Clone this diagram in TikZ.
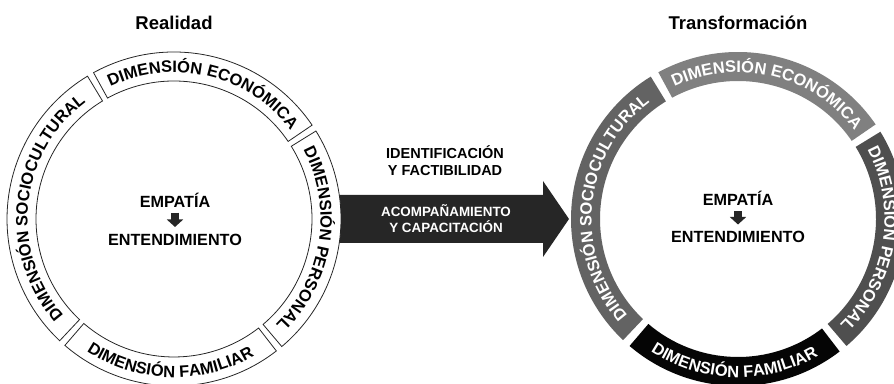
\documentclass[tikz,border=0pt]{standalone}
\usepackage{fontspec}
\setmainfont{Liberation Sans}
\usetikzlibrary{decorations.text,arrows.meta}

\definecolor{econgray}{gray}{0.50}
\definecolor{sociogray}{gray}{0.39}
\definecolor{persgray}{gray}{0.31}
\definecolor{famblack}{gray}{0.02}
\definecolor{arrowblack}{gray}{0.15}

\newcommand\ringfont{\bfseries\fontsize{16.5}{17}\selectfont}
% one band of a ring: centre, from, to, style
\newcommand\ringpart[4]{%
  \path[#4,shift={(#1)}] (#2:167) arc[start angle=#2,end angle=#3,radius=167]
    -- (#3:138) arc[start angle=#3,end angle=#2,radius=138] -- cycle;}
% text on a ring: centre, from, to, radius, text
\newcommand\ringtext[5]{%
  \path[shift={(#1)},decorate,decoration={text along path,text align=center,
    text={#5}}] (#2:#4) arc[start angle=#2,end angle=#3,radius=#4];}

\begin{document}
\begin{tikzpicture}[x=1pt,y=1pt,
  outline/.style={draw=black!85,line width=0.8pt,fill=white},
  ttl/.style={font=\bfseries\fontsize{18.5}{20}\selectfont},
  ctr/.style={font=\bfseries\fontsize{16.2}{17}\selectfont,inner sep=0pt,anchor=base},
  mid/.style={font=\bfseries\fontsize{14.5}{17}\selectfont,align=center},
  arrtext/.style={font=\bfseries\fontsize{13.4}{16}\selectfont,align=center,text=white},
  dnarrow/.style={line width=8.5pt,arrowblack,-{Triangle[width=16pt,length=7.5pt]}}]
\useasboundingbox (0,0) rectangle (894,383);
\clip (0,0) rectangle (894,383);

\coordinate (lc) at (174,164);
\coordinate (rc) at (738,164);

% big arrow in the middle
\fill[arrowblack] (330,188) -- (543,188) -- (543,202) -- (569,164)
  -- (543,126) -- (543,140) -- (330,140) -- cycle;
\node[arrtext] (acomp) at (446,164) {ACOMPAÑAMIENTO\\Y CAPACITACIÓN};
\node[mid] (ident) at (445,222) {IDENTIFICACIÓN\\Y FACTIBILIDAD};

% Realidad
\node[ttl] (real) at (174,360) {Realidad};
\ringpart{lc}{121.2}{226.8}{outline}
\ringpart{lc}{34.2}{118.8}{outline}
\ringpart{lc}{-49.8}{31.8}{outline}
\ringpart{lc}{-130.8}{-52.2}{outline}
\ringtext{lc}{226.8}{121.2}{146.5}{|\ringfont|DIMENSIÓN SOCIOCULTURAL}
\ringtext{lc}{118.8}{34.2}{146.5}{|\ringfont|DIMENSIÓN ECONÓMICA}
\ringtext{lc}{31.8}{-49.8}{146.5}{|\ringfont|DIMENSIÓN PERSONAL}
\ringtext{lc}{-130.8}{-52.2}{158.5}{|\ringfont|DIMENSIÓN FAMILIAR}
\node[ctr] (emp1) at (175,175.5) {EMPATÍA};
\node[ctr] (ent1) at (175,137.5) {ENTENDIMIENTO};
\draw[dnarrow,shorten <=5pt,shorten >=7pt] (emp1.south) -- (ent1.north);

% Transformacion
\node[ttl] (trans) at (738,360) {Transformación};
\ringpart{rc}{121.5}{226.5}{fill=sociogray}
\ringpart{rc}{34.5}{118.5}{fill=econgray}
\ringpart{rc}{-49.5}{31.5}{fill=persgray}
\ringpart{rc}{-130.5}{-52.5}{fill=famblack}
\ringtext{rc}{226.5}{121.5}{146.5}{|\ringfont\color{white}|DIMENSIÓN SOCIOCULTURAL}
\ringtext{rc}{118.5}{34.5}{146.5}{|\ringfont\color{white}|DIMENSIÓN ECONÓMICA}
\ringtext{rc}{31.5}{-49.5}{146.5}{|\ringfont\color{white}|DIMENSIÓN PERSONAL}
\ringtext{rc}{-130.5}{-52.5}{158.5}{|\ringfont\color{white}|DIMENSIÓN FAMILIAR}
\node[ctr] (emp2) at (738,177) {EMPATÍA};
\node[ctr] (ent2) at (738,140) {ENTENDIMIENTO};
\draw[dnarrow,shorten <=5pt,shorten >=7pt] (emp2.south) -- (ent2.north);
\end{tikzpicture}
\end{document}
